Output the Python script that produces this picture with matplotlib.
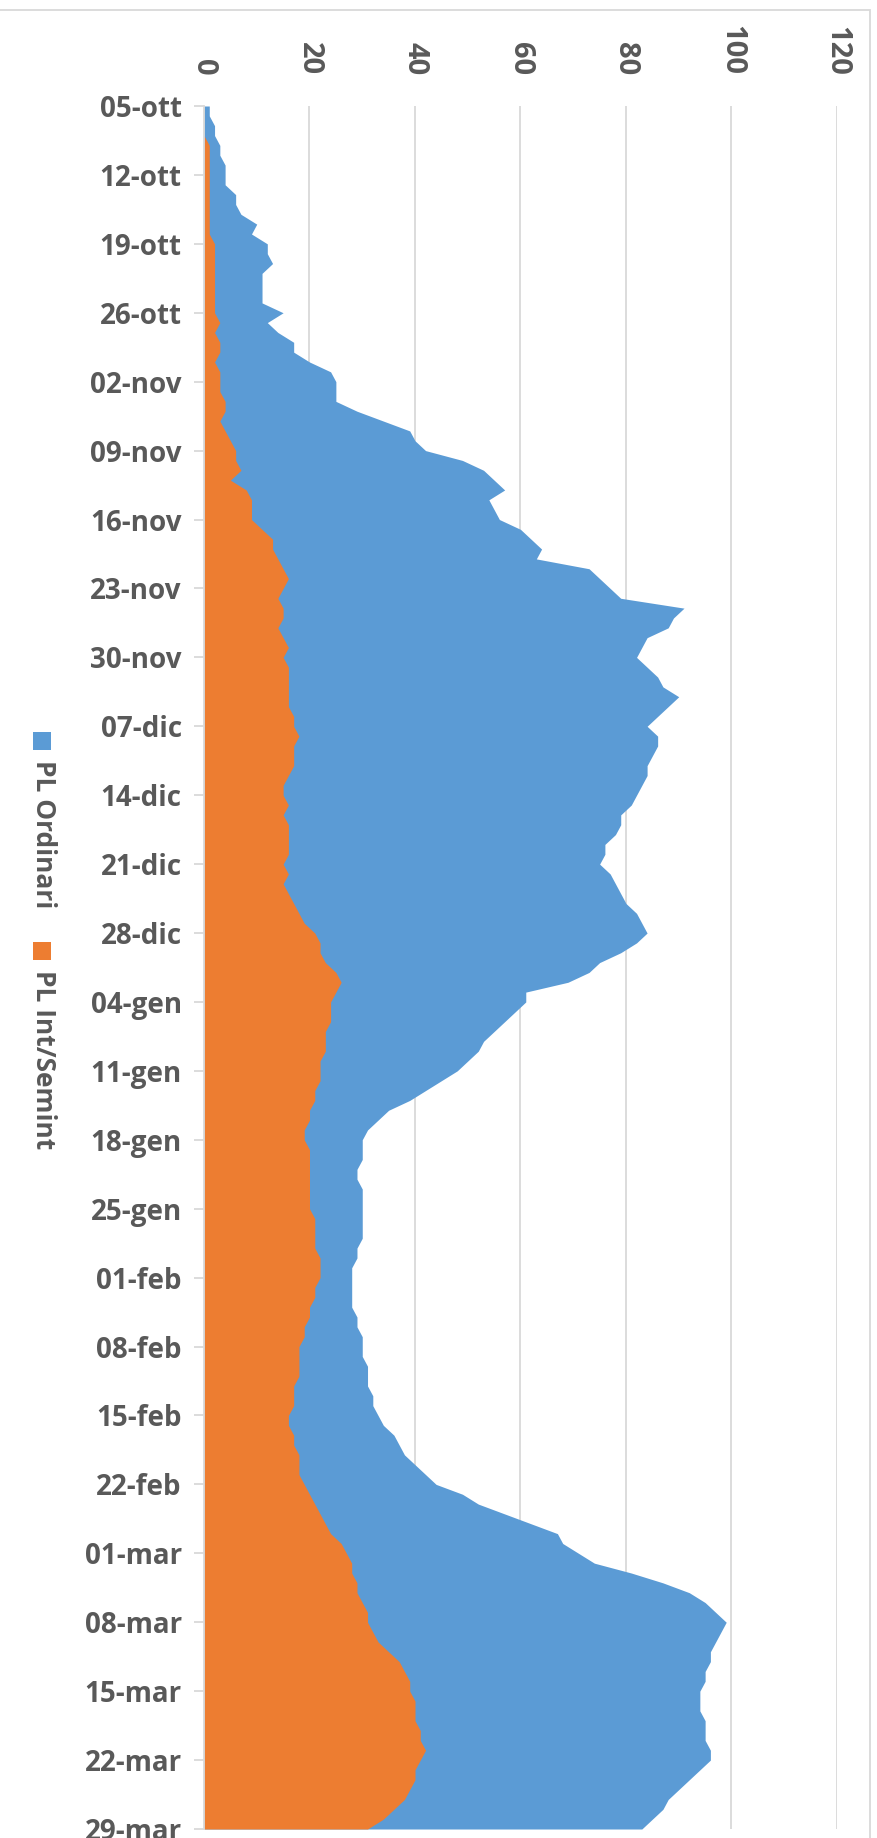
import numpy as np
import pandas as pd
import matplotlib
matplotlib.use("Agg")
import matplotlib.pyplot as plt
from matplotlib.patches import Rectangle

# daily counts, 05-ott -> 29-mar
pl_ordinari = [1, 1, 2, 2, 3, 3, 4, 4, 4, 6, 6, 7, 10, 9, 12, 12, 13, 11, 11, 11,
               11, 15, 12, 14, 17, 17, 20, 24, 25, 25, 25, 29, 34, 39, 40, 42, 49, 53, 55, 57,
               54, 55, 56, 60, 62, 64, 63, 73, 75, 77, 79, 91, 89, 88, 84, 83, 82, 84, 86, 87,
               90, 88, 86, 84, 86, 86, 85, 84, 84, 83, 82, 81, 79, 79, 78, 76, 76, 75, 77, 78,
               79, 80, 82, 83, 84, 82, 79, 75, 73, 69, 61, 61, 59, 57, 55, 53, 52, 50, 48, 45,
               42, 39, 35, 33, 31, 30, 30, 30, 29, 29, 30, 30, 30, 30, 30, 30, 29, 29, 28, 28,
               28, 28, 28, 29, 29, 30, 30, 30, 31, 31, 31, 32, 32, 33, 34, 36, 37, 38, 40, 42,
               44, 49, 52, 57, 62, 67, 68, 71, 74, 81, 87, 92, 95, 97, 99, 98, 97, 96, 96, 95,
               95, 94, 94, 94, 95, 95, 95, 96, 96, 94, 92, 90, 88, 87, 85, 83]
pl_int_semint = [0, 0, 0, 0, 1, 1, 1, 1, 1, 1, 1, 1, 1, 1, 2, 2, 2, 2, 2, 2,
                 2, 2, 3, 2, 3, 3, 2, 3, 3, 3, 4, 4, 3, 4, 5, 6, 6, 7, 5, 8,
                 9, 9, 9, 11, 13, 13, 14, 15, 16, 15, 14, 15, 15, 14, 15, 16, 15, 16, 16, 16,
                 16, 16, 17, 17, 18, 17, 17, 17, 16, 15, 15, 16, 15, 16, 16, 16, 16, 15, 16, 15,
                 16, 17, 18, 19, 21, 22, 22, 23, 25, 26, 25, 24, 24, 24, 23, 23, 23, 22, 22, 22,
                 21, 21, 20, 20, 19, 19, 20, 20, 20, 20, 20, 20, 20, 21, 21, 21, 21, 22, 22, 22,
                 21, 21, 20, 20, 19, 19, 18, 18, 18, 18, 17, 17, 17, 16, 16, 17, 17, 18, 18, 18,
                 19, 20, 21, 22, 23, 24, 26, 27, 28, 28, 29, 29, 30, 31, 31, 32, 33, 35, 37, 38,
                 39, 39, 40, 40, 40, 41, 41, 42, 41, 40, 40, 39, 38, 36, 34, 31]
tick_labels = ['05-ott', '12-ott', '19-ott', '26-ott', '02-nov', '09-nov', '16-nov',
               '23-nov', '30-nov', '07-dic', '14-dic', '21-dic', '28-dic', '04-gen',
               '11-gen', '18-gen', '25-gen', '01-feb', '08-feb', '15-feb', '22-feb',
               '01-mar', '08-mar', '15-mar', '22-mar', '29-mar']
series_names = ['PL Ordinari', 'PL Int/Semint']

dates = pd.date_range('2020-10-05', '2021-03-29', freq='D')
blue = '#5B9BD5'
orange = '#ED7D31'
txt = '#595959'
grid = '#D9D9D9'
fam = ['Open Sans', 'DejaVu Sans']

fig = plt.figure(figsize=(8.78, 18.38), dpi=100)
W, H = 878, 1838
ax = fig.add_axes([204 / W, 1 - 1829 / H, (837 - 204) / W, (1829 - 106) / H])

# chart drawn sideways: values run along x, dates down the y axis
ax.fill_betweenx(dates, 0, pl_ordinari, color=blue, lw=0, zorder=2)
ax.fill_betweenx(dates, 0, pl_int_semint, color=orange, lw=0, zorder=3)

ax.set_xlim(0, 120)
ax.set_xticks(range(0, 121, 20))
ax.set_ylim(dates[-1], dates[0])
ax.set_yticks(dates[::7])
ax.set_yticklabels(tick_labels)

ax.xaxis.tick_top()
ax.grid(axis='x', color=grid, lw=1.3, zorder=0)
ax.set_axisbelow(True)
for s in ['top', 'right', 'bottom']:
    ax.spines[s].set_visible(False)
ax.spines['left'].set_color(grid)
ax.spines['left'].set_linewidth(1.3)
ax.spines['left'].set_zorder(4)

ax.tick_params(axis='x', length=0, pad=22)
ax.tick_params(axis='y', length=7, width=1.3, color=grid, pad=9)
for lab in ax.get_xticklabels():
    lab.set_rotation(-90)
    lab.set_fontfamily(fam)
    lab.set_fontweight('bold')
    lab.set_fontsize(21)
    lab.set_color(txt)
for lab in ax.get_yticklabels():
    lab.set_fontfamily(fam)
    lab.set_fontweight('bold')
    lab.set_fontsize(20)
    lab.set_color(txt)

# legend on the left, rotated like the rest of the picture
for name, col, top in [(series_names[0], blue, 732), (series_names[1], orange, 942)]:
    fig.patches.append(Rectangle((33 / W, 1 - (top + 18) / H), 18 / W, 18 / H,
                                 transform=fig.transFigure, color=col, lw=0))
    fig.text(43 / W, 1 - (top + 28) / H, name, rotation=-90, ha='center', va='top',
             fontsize=19, fontweight='bold', family=fam, color=txt)

# outer chart border
fig.patches.append(Rectangle((-0.01, -0.01), 870 / W + 0.01, 1 - 10 / H + 0.01,
                             transform=fig.transFigure, fill=False, edgecolor=grid, lw=1.3))

fig.savefig('out.png', dpi=100)
